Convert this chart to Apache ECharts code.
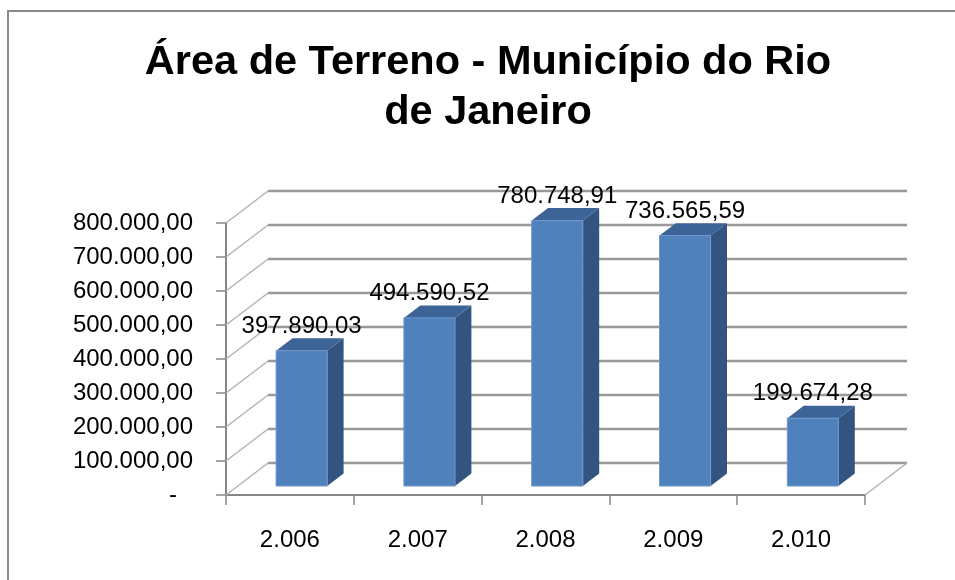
<!DOCTYPE html>
<html>
<head>
<meta charset="utf-8">
<script src="https://cdn.jsdelivr.net/npm/echarts@6/dist/echarts.min.js"></script>
<style>
  html, body { margin: 0; padding: 0; background: #fff; }
  #chart { width: 955px; height: 580px; }
</style>
</head>
<body>
<div id="chart"></div>
<script>
const titleLines = ['Área de Terreno - Município do Rio', 'de Janeiro'];
const categories = ['2.006', '2.007', '2.008', '2.009', '2.010'];
const values = [397890.03, 494590.52, 780748.91, 736565.59, 199674.28];
const yTicks = [0, 100000, 200000, 300000, 400000, 500000, 600000, 700000, 800000];

const FONT = '"Liberation Sans", Arial, sans-serif';
const DX = 42, DY = -32;      // depth vector of the 3D box
const F0 = 0.28, F1 = 0.67;   // bar depth range (fraction of depth)

function formatBR(v) {
  const s = v.toFixed(2);
  const parts = s.split('.');
  const intPart = parts[0].replace(/\B(?=(\d{3})+(?!\d))/g, '.');
  return intPart + ',' + parts[1];
}

const chart = echarts.init(document.getElementById('chart'), null, { renderer: 'canvas' });

const option = {
  animation: false,
  backgroundColor: '#ffffff',
  graphic: [
    {
      type: 'rect', z: 0, silent: true,
      shape: { x: 8, y: 11, width: 1000, height: 1000 },
      style: { fill: 'none', stroke: '#8a8a8a', lineWidth: 2 }
    },
    {
      type: 'text', z: 10, silent: true,
      style: {
        text: titleLines.join('\n'),
        x: 488, y: 38,
        textAlign: 'center', textVerticalAlign: 'top',
        font: 'bold 41.5px ' + FONT,
        lineHeight: 50,
        fill: '#000000'
      }
    }
  ],
  grid: { left: 226, right: 90, top: 223, bottom: 85, containLabel: false },
  xAxis: {
    type: 'category',
    data: categories,
    boundaryGap: true,
    axisLine: { show: true, lineStyle: { color: '#868686', width: 2 } },
    axisTick: { show: true, length: 10, lineStyle: { color: '#868686', width: 1.5 } },
    axisLabel: { fontSize: 24, fontFamily: FONT, color: '#000', margin: 33 },
    splitLine: { show: false }
  },
  yAxis: {
    type: 'value',
    min: 0, max: 800000, interval: 100000,
    axisLine: { show: true, lineStyle: { color: '#868686', width: 2 } },
    axisTick: { show: true, length: 10, lineStyle: { color: '#868686', width: 1.5 } },
    axisLabel: {
      fontSize: 24, fontFamily: FONT, color: '#000', margin: 33,
      formatter: function (v) { return v === 0 ? '{d|-}' : formatBR(v); },
      rich: { d: { fontSize: 24, fontFamily: FONT, color: '#000', padding: [0, 16, 0, 0] } }
    },
    splitLine: { show: false }
  },
  series: [
    {
      name: 'walls',
      type: 'custom',
      silent: true,
      z: 1,
      data: yTicks.map(v => [0, v]),
      encode: { x: 0, y: 1 },
      renderItem: function (params, api) {
        const cs = params.coordSys;
        const v = api.value(1);
        const y = api.coord([0, v])[1];
        const children = [
          {
            type: 'line',
            shape: { x1: cs.x + DX, y1: y + DY, x2: cs.x + cs.width + DX, y2: y + DY },
            style: { stroke: '#999999', lineWidth: 2.5 }
          },
          {
            type: 'line',
            shape: { x1: cs.x, y1: y, x2: cs.x + DX, y2: y + DY },
            style: { stroke: '#b4b4b4', lineWidth: 1.5 }
          }
        ];
        if (v === 0) {
          children.push({
            type: 'line',
            shape: { x1: cs.x + cs.width, y1: y, x2: cs.x + cs.width + DX, y2: y + DY },
            style: { stroke: '#b4b4b4', lineWidth: 1.5 }
          });
        }
        return { type: 'group', children: children };
      }
    },
    {
      name: 'Área de Terreno',
      type: 'custom',
      z: 3,
      data: values.map((v, i) => [i, v]),
      encode: { x: 0, y: 1 },
      renderItem: function (params, api) {
        const idx = api.value(0);
        const val = api.value(1);
        const base = api.coord([idx, 0]);
        const top = api.coord([idx, val]);
        const bw = api.size([1, 0])[0];
        const w = bw * 0.4;
        const ox = DX * F0, oy = DY * F0;
        const dx = DX * (F1 - F0), dy = DY * (F1 - F0);
        const left = base[0] - w / 2 + ox;
        const right = left + w;
        const yb = base[1] + oy;
        const yt = top[1] + oy;
        return {
          type: 'group',
          children: [
            {
              type: 'polygon',
              shape: { points: [[right, yt], [right + dx, yt + dy], [right + dx, yb + dy], [right, yb]] },
              style: { fill: '#33547f' }
            },
            {
              type: 'polygon',
              shape: { points: [[left, yt], [left + dx, yt + dy], [right + dx, yt + dy], [right, yt]] },
              style: { fill: '#3d6496' }
            },
            {
              type: 'rect',
              shape: { x: left, y: yt, width: w, height: yb - yt },
              style: { fill: '#4f81bd', stroke: '#6f98cc', lineWidth: 1 }
            },
            {
              type: 'text',
              style: {
                text: formatBR(val),
                x: left + w / 2, y: yt + dy,
                textAlign: 'center', textVerticalAlign: 'bottom',
                font: '24px ' + FONT,
                fill: '#000'
              }
            }
          ]
        };
      }
    }
  ]
};

chart.setOption(option);
</script>
</body>
</html>
